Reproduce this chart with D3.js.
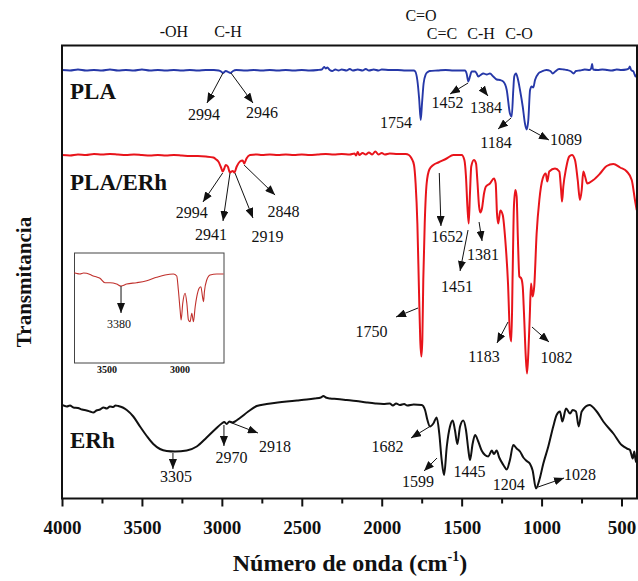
<!DOCTYPE html>
<html><head><meta charset="utf-8">
<script src="https://cdn.jsdelivr.net/npm/d3@7"></script>
<style>
body{margin:0;background:#fff}
svg{display:block}
text{font-family:"Liberation Serif","Times New Roman",Times,serif;fill:#111}
</style>
</head><body>
<svg id="chart" width="638" height="581"></svg>
<script>
// ---------------- DATA ----------------
const xMajorTicks = [4000, 3500, 3000, 2500, 2000, 1500, 1000, 500];
const xMinorTicks = [3750, 3250, 2750, 2250, 1750, 1250, 750];
const insetTicks = [3500, 3000];
const seriesNames = ["PLA", "PLA/ERh", "ERh"];
const bandLabels = ["-OH", "C-H", "C=O", "C=C", "C-H", "C-O"];
const bandWn = [3300, 2962, 1754, 1623, 1379, 1141];

// [wavenumber cm-1, transmittance (a.u., stacked)]
const plaSpectrum = [[4000,428.5],[3950,428],[3900,429],[3850,428],[3800,428.5],[3750,428],[3700,429],[3650,428],[3600,428.5],[3550,428],[3500,429],[3450,428],[3400,428.5],[3350,428],[3300,428.5],[3250,428],[3200,428.5],[3150,428],[3100,428.5],[3050,428.5],[3020,428],[3005,427],[2994,425.5],[2975,427.5],[2960,426.5],[2946,425.5],[2930,427.5],[2910,428.5],[2850,428],[2800,428.5],[2750,428],[2700,428.5],[2650,428],[2600,428.5],[2550,428],[2500,428.5],[2450,428],[2400,428.5],[2375,429],[2360,431.5],[2350,430],[2340,431],[2325,428.5],[2310,427.5],[2290,429],[2270,428],[2250,429],[2220,428],[2200,429.5],[2180,428],[2150,429],[2120,428],[2100,429.5],[2080,428],[2050,429],[2020,428],[2000,429],[1950,428.5],[1900,428.5],[1850,428],[1800,428],[1790,427],[1777,418],[1766,400],[1756,378.5],[1748,395],[1738,415],[1725,424],[1712,426.5],[1700,427.5],[1650,428],[1600,428.5],[1550,428],[1500,428],[1479,428],[1469,425],[1458,417],[1448,422],[1437,427],[1416,427],[1406,425],[1396,422],[1386,423],[1364,425],[1343,424],[1323,425],[1302,422],[1281,419],[1260,418.5],[1239,416.8],[1218,408.5],[1198,385],[1187,382],[1177,408.5],[1171,422],[1160,425],[1149,420],[1135,408.5],[1118,392],[1104,375],[1093,369],[1083,378.5],[1072,408.5],[1062,412],[1052,411],[1041,418.5],[1020,425],[999,427],[970,428.5],[945,427.5],[930,425],[915,427],[890,429.5],[860,429],[840,428.5],[815,427],[800,425],[785,427.5],[760,428],[730,429],[700,428.5],[690,430],[684,434.5],[678,429],[650,428.5],[620,429],[590,428.5],[560,428],[530,429],[500,428.5],[470,429],[455,430],[448,432],[440,428.5],[425,427],[412,422],[405,424]];

const plaErhSpectrum = [[4000,343.5],[3950,343],[3900,344],[3850,343.5],[3800,344.5],[3750,344],[3700,344.5],[3650,344],[3600,343.5],[3550,344],[3500,343.5],[3450,343],[3400,343.5],[3350,343],[3300,343.5],[3250,343],[3200,342.5],[3150,342.5],[3100,342],[3053,341],[3035,339],[3022,337],[3005,331],[2995,327],[2985,330],[2976,333.5],[2963,332],[2949,326],[2940,327],[2932,327.5],[2922,326],[2907,332],[2887,337],[2870,338],[2860,335],[2846,340],[2824,343.5],[2780,344],[2750,343.5],[2700,344],[2650,343.5],[2600,344],[2550,343.5],[2500,344],[2450,343.5],[2400,344],[2350,344.5],[2300,344],[2250,344.5],[2200,344],[2170,345],[2160,343],[2150,346.5],[2140,343.5],[2120,345.5],[2100,344],[2080,346],[2060,344],[2040,347],[2020,344],[2000,345.5],[1980,344],[1950,345],[1900,344.5],[1850,344.5],[1830,343.5],[1813,340],[1798,333.5],[1788,315],[1777,275],[1767,208.5],[1759,158.5],[1752,142],[1746,158.5],[1740,218.5],[1731,275],[1719,315],[1702,329],[1677,333.5],[1646,336],[1594,340],[1552,343.5],[1500,343.5],[1483,338.5],[1473,322],[1464,292],[1456,275],[1448,305],[1440,332],[1423,338.5],[1410,335],[1402,318.5],[1391,292],[1383,286],[1373,290],[1360,305],[1348,312],[1323,315],[1298,320],[1287,315],[1279,285],[1271,275],[1258,288],[1243,283.5],[1227,258.5],[1210,215],[1198,165],[1189,157],[1181,225],[1173,292],[1164,308.5],[1156,302],[1148,258.5],[1139,222],[1127,220],[1118,212],[1110,185],[1099,142],[1091,125],[1083,145],[1074,182],[1066,215],[1056,202],[1046,212],[1031,265],[1014,298.5],[993,320],[974,325],[964,317],[952,327],[916,330],[889,327],[878,308.5],[872,297],[864,312],[847,330],[827,342],[810,343.5],[791,338.5],[774,318.5],[760,298.5],[749,308.5],[739,327],[728,322],[714,315],[676,318.5],[634,325],[593,332.5],[551,334.5],[509,331],[467,327],[436,318.5],[416,298.5],[405,288.5]];

const erhSpectrum = [[4000,93.5],[3970,92],[3950,93],[3929,91],[3900,90.5],[3875,89],[3846,88],[3825,87],[3804,86],[3785,88],[3762,89],[3740,91],[3720,90],[3700,92],[3680,91.5],[3665,93],[3648,92.5],[3620,91],[3595,88.5],[3554,82],[3512,72],[3470,62.5],[3429,54.5],[3387,49.5],[3345,47.5],[3293,47],[3220,48],[3157,52],[3095,61],[3043,69],[3001,75],[2985,76.5],[2970,74.5],[2953,77],[2935,76],[2918,77],[2887,80.5],[2835,87],[2782,92.5],[2720,94.5],[2650,96],[2594,97],[2530,98],[2469,99],[2420,100],[2380,101],[2365,102.5],[2350,101],[2323,100],[2280,99.5],[2219,98.5],[2160,97.5],[2094,96],[2040,95],[1990,94.5],[1950,95],[1930,93],[1910,95],[1886,93.5],[1860,94.5],[1840,93],[1800,94],[1750,93.5],[1729,88.5],[1715,79],[1698,72],[1677,75],[1656,81],[1640,65],[1625,38.5],[1610,23.5],[1593,52],[1573,72],[1556,78],[1542,68.5],[1527,54.5],[1510,72],[1490,78],[1473,68.5],[1458,48.5],[1448,38.5],[1431,55],[1416,63.5],[1396,57],[1375,48],[1354,43.5],[1333,42],[1312,48],[1298,44.5],[1281,48],[1265,41],[1239,33.5],[1218,29],[1198,38.5],[1177,53.5],[1156,50],[1135,47],[1114,41],[1093,37.5],[1072,34.5],[1056,28],[1035,10],[1014,18.5],[989,35],[958,52],[927,72],[906,83.5],[885,87],[870,77],[847,90],[822,85],[805,88.5],[785,87],[768,72],[749,87],[701,93.5],[655,87],[614,77],[551,65],[499,53.5],[467,50],[447,48.5],[440,45],[430,40],[420,47],[410,36.5],[403,40]];

// inset: PLA/ERh, 3700-2700 cm-1
const insetSpectrum = [[3724,90.3],[3705,89.5],[3685,89],[3660,90],[3639,89.7],[3615,88.5],[3594,87],[3570,86],[3548,84.7],[3514,80.3],[3479,80.3],[3434,79],[3404,77],[3365,79],[3297,80.3],[3228,82.3],[3160,85.7],[3103,88],[3046,89],[3023,87],[3012,73],[3000,53],[2993,43],[2982,59.7],[2966,69.7],[2954,59.7],[2943,43],[2932,41.3],[2920,49.7],[2909,41.3],[2897,56.3],[2886,66.3],[2870,74.7],[2858,76.3],[2847,66.3],[2840,61.3],[2834,71.3],[2818,83],[2795,88],[2749,89],[2703,89]];

// annotations: [label, wavenumber, transmittance, tail dx, tail dy, text dx, text dy]
const plaNotes = [["2994",2993,425.5,-16,30,-19,47],["2946",2943,425.5,22,30,31,45],["1754",1754,378.5,null,null,-25,8],["1452",1460,415.5,-18,11,-20.5,25],["1384",1379,411.5,7,9,5,26],["1184",1191,380.5,-13,11,-15,30],["1089",1079,369.5,20,11,37,16]];
const plaErhNotes = [["2994",2995,325.5,-19.7,29,-31,45],["2941",2949,325.5,-7,48,-19,67],["2919",2918,325.5,18,45,32.5,69],["2848",2861,333.5,31,30,39.5,52],["1750",1773,190.5,-22,9,-46.5,29],["1652",1640,325.5,1.7,53,8,69],["1451",1460,268.5,-8,41,-11,62],["1381",1391,276.5,3,19,4,38],["1183",1210,176.5,-11,21,-24,40],["1082",1060,171.5,17,15,24.5,36]];
const erhNotes = [["3305",3306,45.5,0,16,3,29],["2970",2987,73.5,0,21,7.5,38],["2918",2937,75.5,26,10,43,29],["1682",1704,71.5,-18,11,-41.5,25],["1599",1654,40.5,-13,13,-19,29],["1445",1448,38.5,null,null,-0.5,17],["1204",1218,29.5,null,null,2,21],["1028",1022,11.5,26,-9,42,-7]];
const insetNotes = [["3380",3404,77,0,27,-2,42]];

// ---------------- LAYOUT ----------------
const W = 638, H = 581;
const frame = {left: 62, top: 45.5, right: 637, bottom: 498.5};
const colors = {pla: "#2638a8", plaErh: "#e8141b", erh: "#111111", inset: "#c0302c"};

const svg = d3.select("#chart");
svg.append("rect").attr("width", W).attr("height", H).attr("fill", "#fff");

const x = d3.scaleLinear().domain([4000, 400]).range([62, 637.5]);
const y = d3.scaleLinear().domain([0, 453]).range([frame.bottom, frame.top]);

const defs = svg.append("defs");
defs.append("clipPath").attr("id", "clip").append("rect")
  .attr("x", frame.left).attr("y", frame.top)
  .attr("width", frame.right - frame.left).attr("height", frame.bottom - frame.top);
defs.append("marker").attr("id", "arrow").attr("markerUnits", "userSpaceOnUse")
  .attr("viewBox", "0 0 10 8").attr("refX", 10).attr("refY", 4)
  .attr("markerWidth", 10).attr("markerHeight", 8).attr("orient", "auto")
  .append("path").attr("d", "M0,0 L10,4 L0,8 Z").attr("fill", "#111");

const line = d3.line().x(d => x(d[0])).y(d => y(d[1])).curve(d3.curveMonotoneX);

const plot = svg.append("g").attr("clip-path", "url(#clip)");
plot.append("path").datum(plaSpectrum).attr("d", line).attr("fill", "none")
  .attr("stroke", colors.pla).attr("stroke-width", 1.9).attr("stroke-linejoin", "round");
plot.append("path").datum(plaErhSpectrum).attr("d", line).attr("fill", "none")
  .attr("stroke", colors.plaErh).attr("stroke-width", 2).attr("stroke-linejoin", "round");
plot.append("path").datum(erhSpectrum).attr("d", line).attr("fill", "none")
  .attr("stroke", colors.erh).attr("stroke-width", 2).attr("stroke-linejoin", "round");

// frame
svg.append("rect").attr("x", frame.left).attr("y", frame.top)
  .attr("width", frame.right - frame.left).attr("height", frame.bottom - frame.top)
  .attr("fill", "none").attr("stroke", "#111").attr("stroke-width", 2);

// x axis
const axis = svg.append("g").attr("transform", `translate(0,${frame.bottom})`);
axis.call(d3.axisBottom(x).tickValues(xMajorTicks).tickSize(8).tickPadding(14).tickFormat(d3.format("d")));
axis.select(".domain").remove();
axis.selectAll(".tick line").attr("stroke", "#111").attr("stroke-width", 2);
axis.selectAll(".tick text").attr("font-family", "Liberation Serif, Times New Roman, serif")
  .attr("font-size", 19).attr("font-weight", "bold").attr("fill", "#111");
const minor = svg.append("g").attr("transform", `translate(0,${frame.bottom})`);
minor.call(d3.axisBottom(x).tickValues(xMinorTicks).tickSize(5).tickFormat(""));
minor.select(".domain").remove();
minor.selectAll(".tick line").attr("stroke", "#111").attr("stroke-width", 2);

// axis titles
const xt = svg.append("text").attr("x", 350).attr("y", 571).attr("text-anchor", "middle")
  .attr("font-size", 24).attr("font-weight", "bold");
xt.append("tspan").text("Número de onda (cm");
xt.append("tspan").attr("font-size", 14).attr("dy", -10).text("-1");
xt.append("tspan").attr("dy", 10).text(")");
svg.append("text").attr("transform", "translate(31,282) rotate(-90)").attr("text-anchor", "middle")
  .attr("font-size", 21).attr("font-weight", "bold").text("Transmitancia");

// series labels
const seriesLabelY = [99, 190, 448];
seriesNames.forEach((n, i) => {
  svg.append("text").attr("x", 70).attr("y", seriesLabelY[i]).attr("font-size", 23)
    .attr("font-weight", "bold").text(n);
});

// band labels above plot
const bandY = [37, 37, 21, 39, 39, 39];
bandLabels.forEach((b, i) => {
  svg.append("text").attr("x", x(bandWn[i])).attr("y", bandY[i]).attr("text-anchor", "middle")
    .attr("font-size", 16).text(b);
});

// annotations
function annotate(g, notes, xs, ys, fs) {
  notes.forEach(n => {
    const px = xs(n[1]), py = ys(n[2]);
    if (n[3] !== null) {
      g.append("line").attr("x1", px).attr("y1", py).attr("x2", px + n[3]).attr("y2", py + n[4])
        .attr("stroke", "#111").attr("stroke-width", 1).attr("marker-end", "url(#arrow)");
    }
    g.append("text").attr("x", px + n[5]).attr("y", py + n[6]).attr("text-anchor", "middle")
      .attr("font-size", fs).text(n[0]);
  });
}
const ann = svg.append("g");
annotate(ann, plaNotes, x, y, 16);
annotate(ann, plaErhNotes, x, y, 16);
annotate(ann, erhNotes, x, y, 16);

// inset
const inBox = {left: 74.5, top: 253, right: 224, bottom: 363};
const xi = d3.scaleLinear().domain([3722, 2700]).range([inBox.left, inBox.right]);
const yi = d3.scaleLinear().domain([0, 110]).range([inBox.bottom, inBox.top]);
const inset = svg.append("g");
inset.append("rect").attr("x", inBox.left).attr("y", inBox.top)
  .attr("width", inBox.right - inBox.left).attr("height", inBox.bottom - inBox.top)
  .attr("fill", "#fff").attr("stroke", "#444").attr("stroke-width", 1);
inset.append("path").datum(insetSpectrum)
  .attr("d", d3.line().x(d => xi(d[0])).y(d => yi(d[1])).curve(d3.curveMonotoneX))
  .attr("fill", "none").attr("stroke", colors.inset).attr("stroke-width", 1.1);
insetTicks.forEach(t => {
  inset.append("text").attr("x", xi(t)).attr("y", 373).attr("text-anchor", "middle")
    .attr("font-size", 10).attr("font-weight", "bold").text(t);
});
annotate(inset, insetNotes, xi, yi, 12);
</script>
</body></html>
